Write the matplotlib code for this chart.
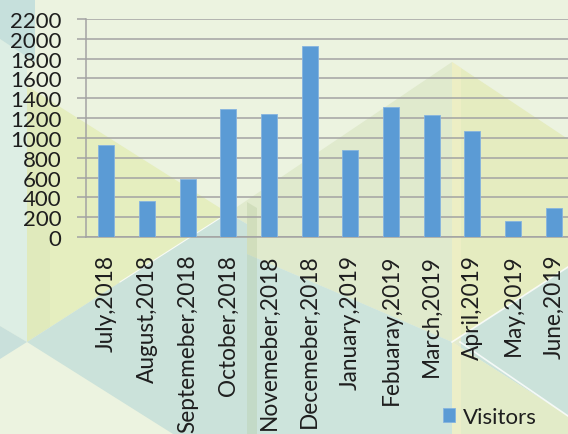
import matplotlib
matplotlib.use("Agg")
import matplotlib.pyplot as plt
from matplotlib.patches import Polygon

# data
months = ["July,2018", "August,2018", "Septemeber,2018", "October,2018",
          "Novemeber,2018", "Decemeber,2018", "January,2019", "Febuaray,2019",
          "March,2019", "April,2019", "May,2019", "June,2019"]
visitors = [930, 359, 588, 1293, 1243, 1925, 880, 1313, 1233, 1072, 165, 296]
yticks = [0, 200, 400, 600, 800, 1000, 1200, 1400, 1600, 1800, 2000, 2200]

plt.rcParams['font.family'] = ['Lato', 'DejaVu Sans']

W, H = 568, 435
fig = plt.figure(figsize=(W / 100, H / 100), dpi=100)

# decorative background (pixel coords, y down)
bg = fig.add_axes([0, 0, 1, 1], zorder=0)
bg.set_xlim(0, W)
bg.set_ylim(H, 0)
bg.axis('off')

def shape(pts, color, alpha=1.0):
    bg.add_patch(Polygon(pts, closed=True, facecolor=color, edgecolor='none', alpha=alpha))

shape([(0, 0), (W, 0), (W, H), (0, H)], '#ecf3e0')
shape([(0, 40), (27, 57), (27, 343), (0, 327)], '#ddeee4')
shape([(0, 0), (35, 0), (35, 63), (0, 40)], '#c6e0dc')
shape([(0, 327), (27, 343), (0, 360)], '#c9e0db')
# left yellow triangle
shape([(27, 87), (228, 214), (27, 343)], '#e5eebf')
shape([(27, 95), (50, 110), (50, 328), (27, 343)], '#d8e3b8', 0.35)
# big green triangle
shape([(228, 214), (452, 63), (452, 343), (247, 255), (247, 225)], '#e0eacd')
shape([(452, 63), (568, 140), (568, 268), (452, 343)], '#e5ecc0')
# teal areas
shape([(27, 343), (228, 214), (247, 225), (247, 435), (173, 435)], '#cbe2da')
shape([(247, 255), (452, 343), (452, 435), (247, 435)], '#cde4dc')
shape([(452, 343), (568, 268), (568, 417)], '#cbe2da')
shape([(452, 343), (568, 417), (568, 435), (452, 435)], '#e2ebc8')
# vertical shadow bands
shape([(247, 203), (257, 209), (257, 435), (247, 435)], '#a8bd8c', 0.25)
shape([(452, 63), (461, 69), (461, 435), (452, 435)], '#f4f1c8', 0.6)
# thin white lines
bg.plot([120, 228], [283, 214], color='white', lw=0.8, alpha=0.8)
bg.plot([452, 568], [343, 268], color='white', lw=1.2, alpha=0.8)
bg.plot([460, 568], [343, 417], color='white', lw=1.2, alpha=0.8)

# main chart
ax = fig.add_axes([86 / W, 197 / H, 488 / W, 218 / H], zorder=1)
ax.patch.set_alpha(0)
ax.bar(range(len(months)), visitors, width=0.39, color='#5b9bd5',
       edgecolor='#86b4df', linewidth=0.6, label='Visitors', zorder=3)
ax.set_xlim(-0.5, len(months) - 0.5)
ax.set_ylim(0, 2200)
ax.set_yticks(yticks)
ax.set_xticks(range(len(months)))
ax.set_xticklabels(months, rotation=90)
ax.yaxis.grid(True, color='#a3a3a3', linewidth=1.1)
ax.set_axisbelow(True)
for s in ['top', 'right']:
    ax.spines[s].set_visible(False)
for s in ['left', 'bottom']:
    ax.spines[s].set_color('#a3a3a3')
    ax.spines[s].set_linewidth(1.1)
ax.tick_params(axis='y', length=6.5, width=1.1, color='#a3a3a3', pad=11,
               labelsize=16, labelcolor='#1e1e1e')
ax.tick_params(axis='x', length=0, pad=12, labelsize=16.3, labelcolor='#1e1e1e')

fig.legend(loc='center', bbox_to_anchor=(490 / W, 1 - 418 / H), frameon=False,
           fontsize=16, handlelength=0.55, handleheight=0.55, handletextpad=0.35,
           borderpad=0, labelcolor='#1e1e1e')

fig.savefig('out.png', dpi=100)
